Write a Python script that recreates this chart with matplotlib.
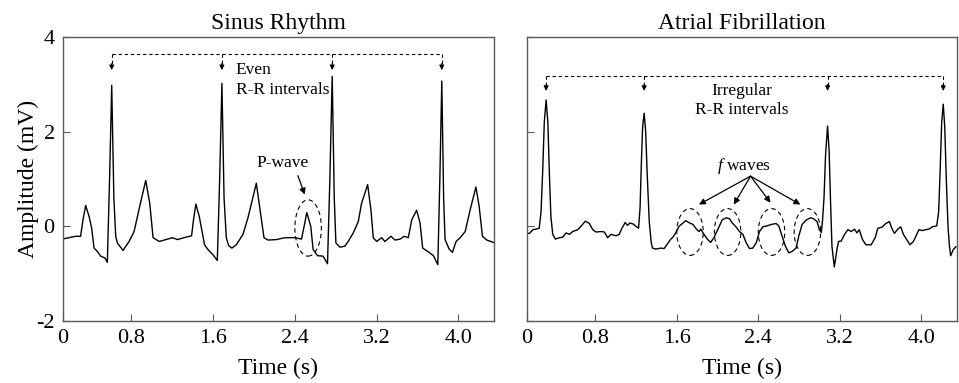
import matplotlib
matplotlib.use("Agg")
import matplotlib.pyplot as plt
from matplotlib.patches import Ellipse
import numpy as np

plt.rcParams['font.family'] = ['Liberation Serif', 'DejaVu Serif']
plt.rcParams['mathtext.fontset'] = 'custom'
plt.rcParams['mathtext.it'] = 'Liberation Serif:italic'
plt.rcParams['mathtext.rm'] = 'Liberation Serif'

# ECG traces (time in s, amplitude in mV)
sinus_t = [0.123, 0.188, 0.253, 0.302, 0.326, 0.352, 0.385, 0.41, 0.434, 0.466,
           0.499, 0.541, 0.564, 0.586, 0.607, 0.628, 0.646, 0.662, 0.718, 0.777,
           0.826, 0.881, 0.94, 0.979, 1.012, 1.072, 1.137, 1.202, 1.251, 1.333,
           1.389, 1.408, 1.431, 1.464, 1.497, 1.516, 1.549, 1.598, 1.641, 1.664,
           1.686, 1.707, 1.729, 1.752, 1.784, 1.827, 1.892, 1.941, 2.023, 2.073,
           2.098, 2.137, 2.22, 2.301, 2.4, 2.465, 2.491, 2.517, 2.556, 2.579,
           2.622, 2.677, 2.72, 2.743, 2.766, 2.786, 2.802, 2.841, 2.89, 2.922,
           2.972, 3.021, 3.054, 3.113, 3.145, 3.168, 3.201, 3.25, 3.282, 3.341,
           3.381, 3.43, 3.472, 3.511, 3.545, 3.593, 3.626, 3.652, 3.701, 3.757,
           3.8, 3.82, 3.839, 3.857, 3.871, 3.911, 3.943, 3.979, 4.019, 4.068,
           4.117, 4.173, 4.205, 4.237, 4.28, 4.345]
sinus_mv = [-0.27, -0.24, -0.21, -0.21, 0.14, 0.44, 0.21, -0.03, -0.46, -0.53,
            -0.63, -0.67, -0.76, 1.0, 2.98, 0.6, -0.21, -0.35, -0.51, -0.32,
            -0.11, 0.42, 0.97, 0.49, -0.24, -0.32, -0.28, -0.24, -0.28, -0.23,
            -0.2, 0.14, 0.47, 0.21, -0.17, -0.39, -0.49, -0.6, -0.72, 1.0,
            3.02, 0.6, -0.24, -0.41, -0.46, -0.39, -0.17, 0.18, 0.91, 0.14,
            -0.24, -0.29, -0.28, -0.24, -0.24, -0.27, 0.0, 0.29, 0.0, -0.49,
            -0.62, -0.63, -0.79, 1.0, 3.17, 0.6, -0.35, -0.44, -0.42, -0.32,
            -0.14, 0.1, 0.49, 0.88, 0.35, -0.24, -0.32, -0.24, -0.32, -0.21,
            -0.29, -0.27, -0.21, -0.24, 0.14, 0.34, 0.07, -0.46, -0.53, -0.62,
            -0.81, 1.0, 3.07, 0.6, -0.28, -0.48, -0.55, -0.32, -0.24, -0.11,
            0.35, 0.83, 0.42, -0.21, -0.29, -0.34]

af_t = [0.122, 0.155, 0.188, 0.22, 0.25, 0.268, 0.285, 0.3, 0.318, 0.335,
        0.35, 0.365, 0.383, 0.409,
        0.448, 0.481, 0.514, 0.546, 0.579, 0.628, 0.66, 0.703, 0.742, 0.775,
        0.807, 0.856, 0.889, 0.922, 0.954, 1.003, 1.035, 1.062, 1.094, 1.117,
        1.14, 1.172, 1.199, 1.225, 1.24, 1.252, 1.265, 1.28, 1.295, 1.31,
        1.33, 1.35, 1.362, 1.394, 1.443,
        1.476, 1.509, 1.541, 1.558, 1.59, 1.622, 1.656, 1.688, 1.727, 1.759,
        1.793, 1.818, 1.835, 1.867, 1.9, 1.932, 1.965, 2.008, 2.047, 2.086,
        2.118, 2.145, 2.177, 2.216, 2.249, 2.282, 2.314, 2.346, 2.38, 2.412,
        2.445, 2.487, 2.529, 2.575, 2.601, 2.634, 2.666, 2.699, 2.732, 2.771,
        2.797, 2.83, 2.869, 2.911, 2.943, 2.977, 2.999, 3.019, 3.031, 3.045,
        3.06, 3.08, 3.095, 3.108, 3.123, 3.146, 3.172, 3.188, 3.214, 3.247,
        3.28, 3.312,
        3.345, 3.368, 3.39, 3.423, 3.456, 3.508, 3.547, 3.573, 3.613, 3.652,
        3.687, 3.71, 3.736, 3.769, 3.798, 3.824, 3.857, 3.889, 3.922, 3.955,
        3.977, 4.01, 4.043, 4.075, 4.108, 4.151, 4.17, 4.185, 4.2, 4.215,
        4.23, 4.245, 4.262, 4.275, 4.288, 4.314, 4.34]
af_mv = [-0.14, -0.15, -0.07, -0.06, -0.04, 0.3, 1.2, 2.2, 2.67, 2.2,
         1.1, 0.2, -0.17, -0.27,
         -0.24, -0.23, -0.14, -0.17, -0.11, -0.07, 0.0, 0.11, 0.06, -0.07,
         -0.12, -0.11, -0.12, -0.24, -0.17, -0.2, -0.17, -0.04, 0.08, 0.02,
         0.07, 0.05, 0.0, -0.04, 0.4, 1.3, 2.1, 2.39, 2.0, 1.1,
         0.1, -0.35, -0.46, -0.48, -0.46,
         -0.47, -0.37, -0.27, -0.24, -0.14, 0.0, 0.06, 0.12, 0.07, 0.04,
         -0.06, -0.11, -0.06, -0.17, -0.27, -0.34, -0.24, -0.04, 0.14, 0.18,
         0.16, 0.07, 0.0, -0.11, -0.17, -0.35, -0.47, -0.46, -0.35, -0.11,
         -0.01, 0.01, 0.04, 0.06, 0.01, -0.21, -0.42, -0.56, -0.53, -0.46,
         -0.21, 0.04, 0.13, 0.18, 0.16, 0.1, -0.07, -0.13, 0.14, 0.6,
         1.5, 2.12, 1.6, 0.6, -0.42, -0.86, -0.49, -0.32, -0.31, -0.17,
         -0.07, -0.11,
         -0.06, -0.14, -0.07, -0.28, -0.39, -0.39, -0.24, -0.04, -0.02, 0.06,
         0.1, -0.04, -0.15, -0.06, -0.01, -0.17, -0.28, -0.39, -0.32, -0.17,
         -0.07, -0.09, -0.07, -0.06, -0.01, 0.01, 0.3, 1.2, 2.2, 2.58,
         2.1, 1.0, 0.0, -0.4, -0.62, -0.49, -0.43]

# annotated features
p_wave_t = 2.53
f_wave_t = [1.73, 2.099, 2.53, 2.882]

x_ticks = [0.13, 0.8, 1.6, 2.4, 3.2, 4.0]
x_labels = ['0', '0.8', '1.6', '2.4', '3.2', '4.0']
y_ticks = [-2, 0, 2, 4]
y_labels = ['-2', '0', '2', '4']

fig = plt.figure(figsize=(9.59, 3.83), dpi=100)
ax1 = fig.add_axes([0.0657, 0.1619, 0.4494, 0.7415])
ax2 = fig.add_axes([0.5495, 0.1619, 0.4484, 0.7415])


def r_peaks(t, mv):
    # local maxima above 1.5 mV are the R peaks
    t = np.array(t)
    mv = np.array(mv)
    idx = [i for i in range(1, len(mv) - 1)
           if mv[i] > 1.5 and mv[i] >= mv[i - 1] and mv[i] >= mv[i + 1]]
    return t[idx]


def style(ax, title, show_y):
    ax.set_xlim(0.13, 4.35)
    ax.set_ylim(-2, 4)
    ax.set_xticks(x_ticks)
    ax.set_xticklabels(x_labels)
    ax.set_yticks(y_ticks)
    ax.set_yticklabels(y_labels if show_y else [])
    ax.tick_params(direction='in', length=5, labelsize=16, color='0.35', pad=6)
    for s in ax.spines.values():
        s.set_color('0.35')
        s.set_linewidth(1.0)
    ax.set_title(title, fontsize=17, pad=6)
    ax.set_xlabel('Time (s)', fontsize=17, labelpad=7)


def bracket(ax, peaks, y_top, y_tip):
    ax.plot([peaks[0], peaks[-1]], [y_top, y_top], color='k', lw=0.8,
            dashes=(3, 2.5))
    for p in peaks:
        ax.plot([p, p], [y_top, y_tip + 0.12], color='k', lw=0.8, dashes=(3, 2.5))
        ax.annotate('', xy=(p, y_tip), xytext=(p, y_tip + 0.14),
                    arrowprops=dict(arrowstyle='-|>', color='k', lw=0.8,
                                    mutation_scale=7, shrinkA=0, shrinkB=0))


# Sinus rhythm
ax1.plot(sinus_t, sinus_mv, color='k', lw=1.0)
style(ax1, 'Sinus Rhythm', True)
ax1.set_ylabel('Amplitude (mV)', fontsize=17, labelpad=-2)
bracket(ax1, r_peaks(sinus_t, sinus_mv), 3.65, 3.3)
ax1.text(1.82, 3.31, 'Even', fontsize=12.5, va='center', ha='left')
ax1.text(1.82, 2.88, 'R-R intervals', fontsize=12.5, va='center', ha='left')
ax1.text(2.28, 1.33, 'P-wave', fontsize=12.5, va='center', ha='center')
ax1.annotate('', xy=(2.497, 0.67), xytext=(2.43, 1.07),
             arrowprops=dict(arrowstyle='-|>', color='k', lw=0.9,
                             mutation_scale=9, shrinkA=0, shrinkB=0))
ax1.add_patch(Ellipse((p_wave_t, -0.035), 0.26, 1.19, fill=False,
                      ls=(0, (4, 3)), lw=0.8, color='k'))

# Atrial fibrillation
ax2.plot(af_t, af_mv, color='k', lw=1.0)
style(ax2, 'Atrial Fibrillation', False)
bracket(ax2, r_peaks(af_t, af_mv), 3.17, 2.86)
ax2.text(2.24, 2.86, 'Irregular', fontsize=12.5, va='center', ha='center')
ax2.text(2.24, 2.46, 'R-R intervals', fontsize=12.5, va='center', ha='center')
ax2.text(2.26, 1.28, r'$f$' + ' waves', fontsize=12.5, va='center', ha='center')
targets = [(1.818, 0.46), (2.16, 0.46), (2.52, 0.5), (2.813, 0.46)]
for tx, ty in targets:
    ax2.annotate('', xy=(tx, ty), xytext=(2.324, 1.06),
                 arrowprops=dict(arrowstyle='-|>', color='k', lw=0.9,
                                 mutation_scale=9, shrinkA=0, shrinkB=0))
for c in f_wave_t:
    ax2.add_patch(Ellipse((c, -0.12), 0.26, 0.99, fill=False,
                          ls=(0, (4, 3)), lw=0.8, color='k'))

fig.savefig('out.png', dpi=100)
